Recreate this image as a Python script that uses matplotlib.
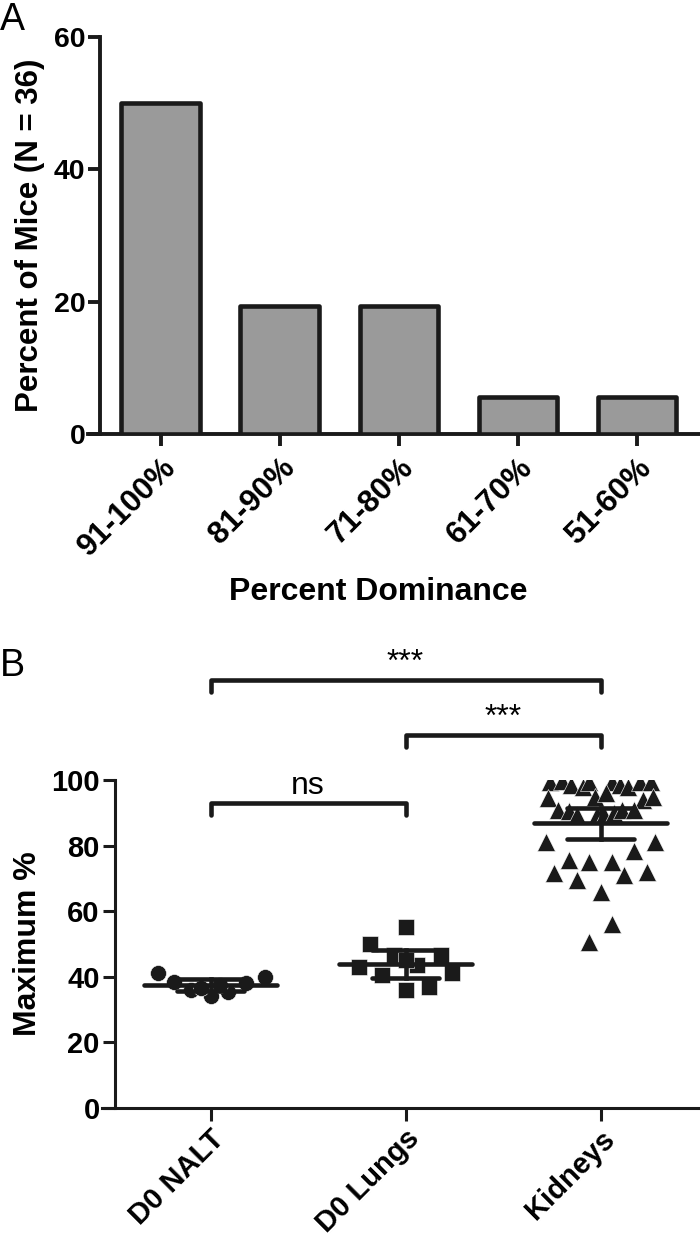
import numpy as np
import matplotlib
matplotlib.use("Agg")
import matplotlib.pyplot as plt

plt.rcParams['font.family'] = ['Liberation Sans', 'DejaVu Sans']

# ---- panel A data ----
dominance = ['91-100%', '81-90%', '71-80%', '61-70%', '51-60%']
pct_mice = [50.0, 19.4, 19.4, 5.6, 5.6]

# ---- panel B data (values and horizontal scatter offsets) ----
groups = ['D0 NALT', 'D0 Lungs', 'Kidneys']

nalt_vals = [41.1, 38.5, 36.0, 34.0, 35.5, 38.0, 40.0, 36.5, 37.5]
nalt_off = [-0.27, -0.19, -0.10, 0.0, 0.09, 0.18, 0.28, -0.05, 0.05]

lung_vals = [55.3, 50.0, 42.9, 40.5, 46.6, 43.6, 46.6, 41.1, 36.0, 37.0, 45.0]
lung_off = [0.0, -0.18, -0.24, -0.12, -0.06, 0.06, 0.18, 0.24, 0.0, 0.12, 0.0]

kid_vals = [99.5, 99.8, 98.5, 98.0, 99.5, 99.5, 98.5, 98.0, 99.5, 99.5,
            94.4, 94.9, 95.9, 93.9, 94.9,
            90.9, 90.4, 89.3, 89.3, 89.3, 89.8, 90.9, 90.9,
            81.2, 81.2, 78.5, 75.6, 75.1, 75.1, 71.6, 71.0, 72.0, 69.5,
            66.0, 56.1, 50.7]
kid_off = [-0.26, -0.20, -0.15, -0.09, -0.06, 0.06, 0.10, 0.14, 0.20, 0.26,
           -0.27, -0.03, 0.03, 0.22, 0.27,
           -0.22, -0.16, -0.12, -0.02, 0.02, 0.07, 0.11, 0.17,
           -0.28, 0.28, 0.17, -0.16, -0.06, 0.06, -0.24, 0.12, 0.24, -0.12,
           0.0, 0.06, -0.06]

means = [37.5, 43.8, 86.8]
ci95 = [1.8, 4.3, 4.8]

# significance brackets: (left group, right group, height, label)
brackets = [(0, 2, 130.5, '***'), (1, 2, 113.7, '***'), (0, 1, 93.0, 'ns')]

ink = '#1a1a1a'
fig = plt.figure(figsize=(7, 12.41), dpi=100)

# ================= panel A =================
ax1 = fig.add_axes([100/700, 1-434/1241, 600/700, 397/1241])
xa = np.arange(len(dominance))
ax1.bar(xa, pct_mice, width=0.66, color='#9a9a9a', edgecolor=ink,
        linewidth=3.3, joinstyle='round', zorder=3)
ax1.set_xlim(-0.51, 4.53)
ax1.set_ylim(0, 60)
ax1.set_yticks([0, 20, 40, 60])
ax1.set_xticks(xa)
ax1.set_xticklabels(dominance, rotation=45, ha='right', rotation_mode='anchor',
                    fontsize=22.5, fontweight='bold')
for t in ax1.get_yticklabels():
    t.set_fontsize(20.5)
    t.set_fontweight('bold')
ax1.spines['top'].set_visible(False)
ax1.spines['right'].set_visible(False)
for s in ['left', 'bottom']:
    ax1.spines[s].set_linewidth(2.8)
    ax1.spines[s].set_color(ink)
ax1.spines['bottom'].set_bounds(-0.61, 4.53)
ax1.tick_params(axis='both', length=8.5, width=2.8, color=ink, pad=2)
ax1.tick_params(axis='x', pad=5)
ax1.set_ylabel('Percent of Mice (N = 36)', fontsize=22.5, fontweight='bold', labelpad=6)
ax1.set_xlabel('Percent Dominance', fontsize=23, fontweight='bold')
ax1.xaxis.set_label_coords(0.463, -0.36)
fig.text(0.0, 0.998, 'A', fontsize=27, ha='left', va='top')

# ================= panel B =================
ax2 = fig.add_axes([115/700, 1-1108/1241, 585/700, 328/1241])
markers = ['o', 's', '^']
msizes = [11.5, 11, 13]
all_vals = [nalt_vals, lung_vals, kid_vals]
all_off = [nalt_off, lung_off, kid_off]
for i, (vals, off) in enumerate(zip(all_vals, all_off)):
    xs = i + np.array(off)
    ax2.plot(xs, vals, linestyle='none', marker=markers[i], markersize=msizes[i],
             color=ink, markeredgecolor='white', markeredgewidth=0.4, zorder=3)
    # mean line and 95% CI
    ax2.plot([i - 0.34, i + 0.34], [means[i], means[i]], color=ink, lw=3.3,
             solid_capstyle='round', zorder=4)
    ax2.plot([i, i], [means[i] - ci95[i], means[i] + ci95[i]], color=ink, lw=3.3, zorder=4)
    for yy in [means[i] - ci95[i], means[i] + ci95[i]]:
        ax2.plot([i - 0.17, i + 0.17], [yy, yy], color=ink, lw=3.3,
                 solid_capstyle='round', zorder=4)

for g1, g2, h, lab in brackets:
    ax2.plot([g1, g1, g2, g2], [h - 3.7, h, h, h - 3.7], color=ink, lw=3.3,
             solid_capstyle='round', solid_joinstyle='round', clip_on=False)
    ax2.text((g1 + g2) / 2, h + 0.6, lab, ha='center', va='bottom', fontsize=23,
             clip_on=False)

ax2.set_xlim(-0.49, 2.51)
ax2.set_ylim(0, 100)
ax2.set_yticks([0, 20, 40, 60, 80, 100])
ax2.set_xticks(range(len(groups)))
ax2.set_xticklabels(groups, rotation=45, ha='right', rotation_mode='anchor',
                    fontsize=21, fontweight='bold')
for t in ax2.get_yticklabels():
    t.set_fontsize(21)
    t.set_fontweight('bold')
ax2.spines['top'].set_visible(False)
ax2.spines['right'].set_visible(False)
for s in ['left', 'bottom']:
    ax2.spines[s].set_linewidth(2.2)
    ax2.spines[s].set_color(ink)
ax2.spines['bottom'].set_bounds(-0.555, 2.51)
ax2.tick_params(axis='both', length=9, width=2.2, color=ink, pad=2)
ax2.tick_params(axis='x', pad=3)
ax2.set_ylabel('Maximum %', fontsize=23, fontweight='bold', labelpad=6)
fig.text(0.0, 1 - 648/1241, 'B', fontsize=27, ha='left', va='top')

fig.savefig('out.png', dpi=100)
